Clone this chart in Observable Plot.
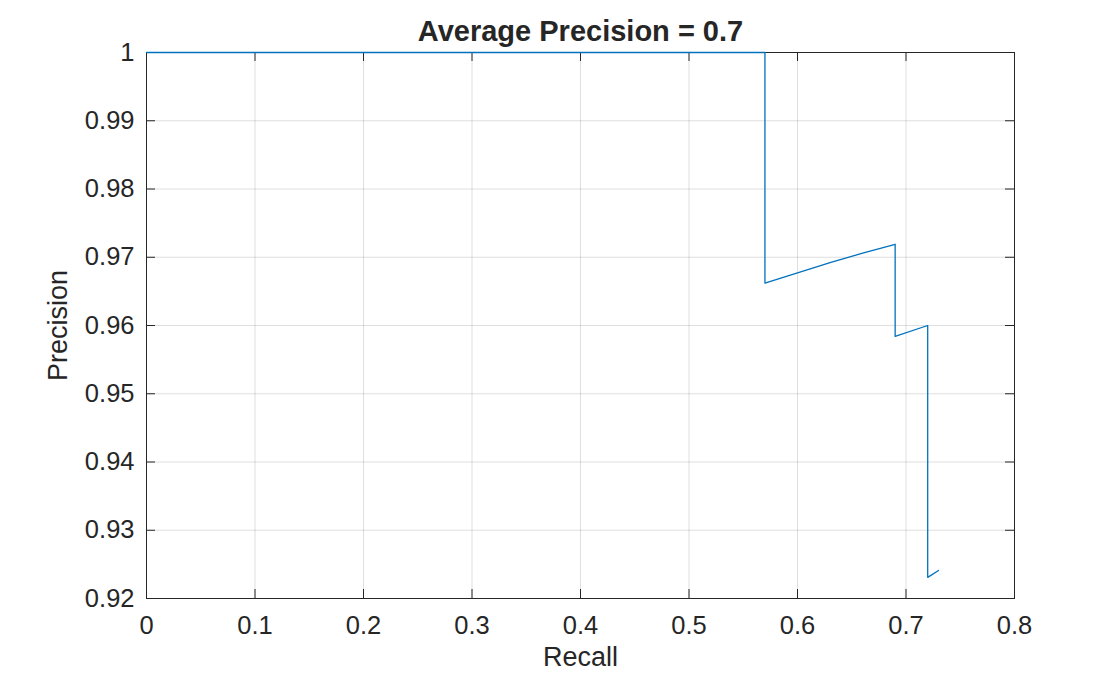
<!DOCTYPE html>
<html>
<head>
<meta charset="utf-8">
<script src="https://cdn.jsdelivr.net/npm/d3@7"></script>
<script src="https://cdn.jsdelivr.net/npm/@observablehq/plot@0.6"></script>
<style>
  html, body { margin: 0; padding: 0; background: #fff; }
  #chart svg { display: block; }
</style>
</head>
<body>
<div id="chart"></div>
<script>
const titleText = "Average Precision = 0.7";
const xLabel = "Recall";
const yLabel = "Precision";
const recall    = [0, 0.57, 0.57, 0.60, 0.63, 0.66, 0.69, 0.69, 0.72, 0.72, 0.730];
const precision = [1, 1, 0.9662, 0.9677, 0.9692, 0.9706, 0.9719, 0.9584, 0.9600, 0.9231, 0.9241];
const xTicks = [0, 0.1, 0.2, 0.3, 0.4, 0.5, 0.6, 0.7, 0.8];
const yTicks = [0.92, 0.93, 0.94, 0.95, 0.96, 0.97, 0.98, 0.99, 1];

const data = recall.map((r, i) => ({recall: r, precision: precision[i]}));

const W = 1120, H = 674;
const mL = 146, mR = 106, mT = 52, mB = 76;
const plotW = W - mL - mR, plotH = H - mT - mB;
const tickLen = 9;
const ink = "#262626";
const fmt = d => String(+d.toFixed(2));

const chart = Plot.plot({
  width: W,
  height: H,
  marginLeft: mL,
  marginRight: mR,
  marginTop: mT,
  marginBottom: mB,
  style: {fontFamily: "'Liberation Sans', Arial, Helvetica, sans-serif", fontSize: "25.5px", color: ink, background: "#fff"},
  x: {domain: [0, 0.8]},
  y: {domain: [0.92, 1]},
  marks: [
    Plot.gridX(xTicks, {stroke: ink, strokeOpacity: 0.15}),
    Plot.gridY(yTicks, {stroke: ink, strokeOpacity: 0.15}),
    Plot.frame({stroke: ink, strokeWidth: 1}),
    Plot.tickX(xTicks, {x: d => d, stroke: ink, insetTop: plotH - tickLen}),
    Plot.tickX(xTicks, {x: d => d, stroke: ink, insetBottom: plotH - tickLen}),
    Plot.tickY(yTicks, {y: d => d, stroke: ink, insetRight: plotW - tickLen}),
    Plot.tickY(yTicks, {y: d => d, stroke: ink, insetLeft: plotW - tickLen}),
    Plot.line(data, {x: "recall", y: "precision", stroke: "#0072BD", strokeWidth: 1.3}),
    Plot.axisX(xTicks, {tickSize: 0, tickPadding: 17, tickFormat: fmt, label: null, fill: ink}),
    Plot.axisY(yTicks, {tickSize: 0, tickPadding: 12, tickFormat: fmt, label: null, fill: ink}),
    Plot.text([titleText], {text: d => d, frameAnchor: "top", lineAnchor: "bottom", textAnchor: "middle", dy: -12, fontWeight: "bold", fontSize: 29, fill: ink}),
    Plot.text([xLabel], {text: d => d, frameAnchor: "bottom", lineAnchor: "bottom", textAnchor: "middle", dy: 67, fontSize: 27, fill: ink}),
    Plot.text([yLabel], {text: d => d, frameAnchor: "left", lineAnchor: "middle", textAnchor: "middle", dx: -88, rotate: -90, fontSize: 27, fill: ink})
  ]
});
document.getElementById("chart").appendChild(chart);
</script>
</body>
</html>
